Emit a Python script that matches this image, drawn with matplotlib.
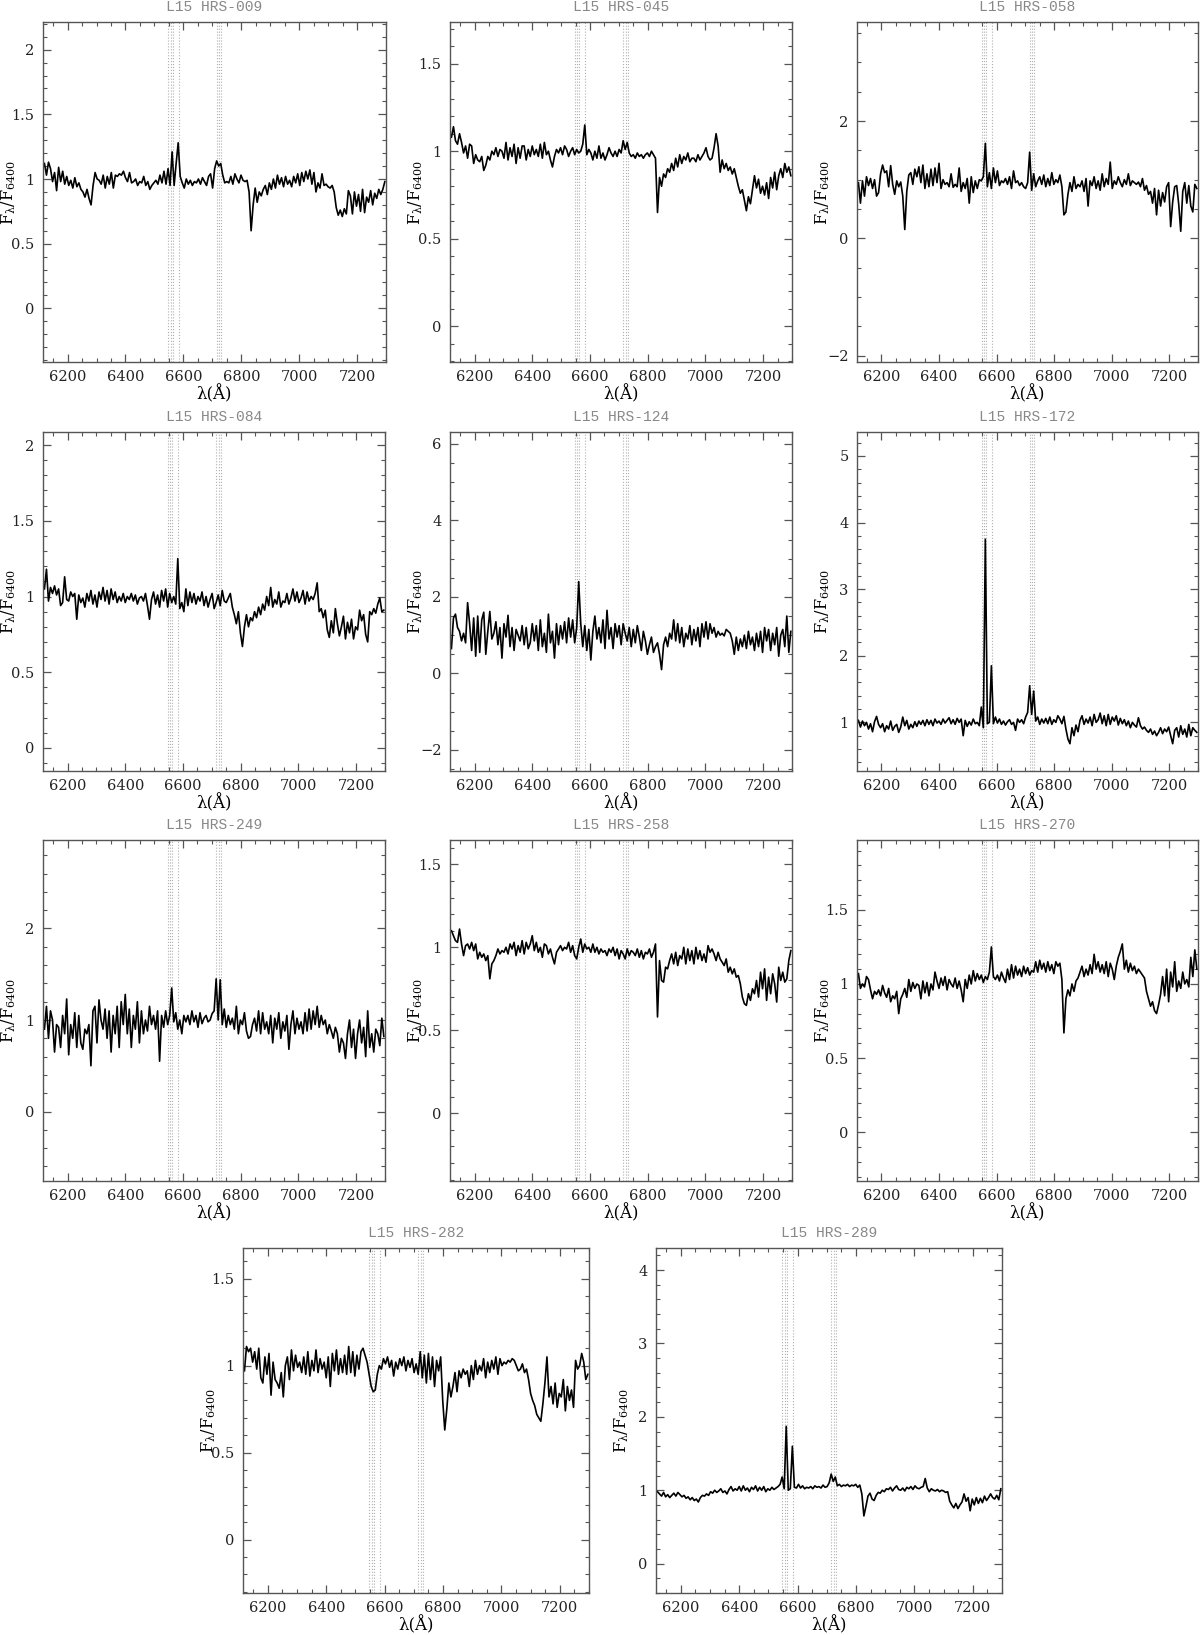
import numpy as np
import matplotlib
matplotlib.use('Agg')
import matplotlib.pyplot as plt
from matplotlib.ticker import MultipleLocator, FuncFormatter

plt.rcParams['font.family'] = 'DejaVu Serif'
plt.rcParams['mathtext.fontset'] = 'dejavuserif'

# wavelength grid of the spectra (7 A sampling), one row of 10 values = 70 A
wl = np.arange(6120, 7300, 7)

# emission line markers (Halpha + [NII], [SII])
line_marks = [6548, 6556, 6563, 6584, 6716, 6724, 6731]

names = ['L15 HRS-009', 'L15 HRS-045', 'L15 HRS-058', 'L15 HRS-084',
         'L15 HRS-124', 'L15 HRS-172', 'L15 HRS-249', 'L15 HRS-258',
         'L15 HRS-270', 'L15 HRS-282', 'L15 HRS-289']

hrs009 = [1.12, 1.03, 1.13, 1.08, 0.98, 1.05, 0.91, 1.09, 0.98, 1.06,
          0.96, 1.02, 0.95, 0.99, 0.93, 1.01, 0.94, 0.97, 0.92, 0.90,
          0.86, 0.92, 0.85, 0.80, 0.95, 1.05, 1.00, 0.99, 0.96, 1.03,
          0.93, 1.02, 0.96, 1.05, 0.93, 1.03, 1.02, 1.04, 1.03, 1.06,
          1.01, 0.98, 1.05, 0.97, 0.98, 1.00, 0.95, 0.98, 0.97, 1.02,
          0.95, 0.98, 0.92, 0.95, 0.97, 0.99, 0.96, 1.03, 0.97, 1.06,
          0.96, 1.08, 0.95, 1.21, 0.95, 1.12, 1.28, 1.02, 0.97, 0.93,
          1.00, 0.96, 0.99, 0.95, 0.98, 0.97, 1.00, 0.96, 1.01, 0.98,
          0.95, 1.02, 1.04, 0.93, 1.08, 1.14, 1.10, 1.12, 1.03, 0.97,
          0.98, 0.97, 1.02, 0.96, 1.04, 1.00, 0.97, 1.03, 0.99, 0.98,
          0.99, 0.90, 0.60, 0.80, 0.93, 0.82, 0.90, 0.87, 0.92, 0.95,
          0.88, 0.97, 0.92, 1.00, 0.93, 1.03, 0.96, 1.01, 0.94, 1.02,
          0.96, 0.99, 0.94, 1.02, 0.97, 1.04, 0.95, 1.05, 0.98, 1.06,
          1.00, 1.07, 0.96, 1.05, 0.90, 0.97, 0.93, 1.04, 0.95, 0.96,
          0.94, 0.93, 0.95, 0.90, 0.78, 0.72, 0.76, 0.71, 0.77, 0.73,
          0.91, 0.87, 0.73, 0.90, 0.79, 0.88, 0.75, 0.92, 0.74, 0.86,
          0.82, 0.91, 0.80, 0.89, 0.85, 0.92, 0.88, 0.92, 0.98]

hrs045 = [1.08, 1.14, 1.06, 1.04, 1.10, 1.05, 0.99, 1.03, 0.96, 1.04,
          1.03, 0.93, 0.98, 0.95, 0.94, 0.97, 0.89, 0.92, 0.97, 0.95,
          1.00, 0.98, 1.02, 0.97, 1.01, 1.00, 0.96, 1.05, 0.95, 1.02,
          0.97, 1.04, 0.93, 1.02, 0.96, 1.03, 1.03, 0.95, 1.01, 0.97,
          1.03, 0.98, 1.01, 0.97, 1.04, 0.96, 1.05, 0.98, 1.00, 0.95,
          0.91, 0.97, 1.01, 0.99, 1.02, 0.98, 1.03, 1.01, 0.97, 1.00,
          1.02, 0.98, 1.01, 0.99, 1.00, 1.04, 1.15, 0.98, 1.01, 0.99,
          0.95, 1.00, 0.96, 1.03, 0.96, 0.99, 0.95, 0.98, 1.02, 0.99,
          0.97, 1.00, 0.97, 1.01, 0.99, 1.06, 1.01, 1.05, 0.99, 0.97,
          0.98, 0.96, 0.99, 0.97, 0.98, 0.96, 0.98, 0.99, 0.97, 1.00,
          0.98, 0.96, 0.65, 0.85, 0.80, 0.87, 0.85, 0.90, 0.88, 0.93,
          0.89, 0.96, 0.91, 0.98, 0.93, 0.97, 0.95, 0.99, 0.94, 0.96,
          0.96, 0.94, 0.98, 0.95, 0.97, 0.99, 1.02, 0.97, 0.95, 0.96,
          1.02, 1.10, 1.03, 0.88, 0.95, 0.90, 0.93, 0.89, 0.91, 0.87,
          0.90, 0.85, 0.80, 0.76, 0.78, 0.72, 0.66, 0.74, 0.70, 0.78,
          0.86, 0.79, 0.84, 0.76, 0.80, 0.75, 0.82, 0.73, 0.85, 0.79,
          0.88, 0.78, 0.86, 0.90, 0.85, 0.93, 0.88, 0.91, 0.86]

hrs058 = [0.95, 0.60, 0.98, 0.72, 1.05, 0.90, 1.02, 0.85, 1.00, 0.72,
          0.78, 1.10, 1.25, 1.12, 1.15, 0.88, 1.24, 0.92, 0.75, 0.98,
          0.88, 0.96, 0.72, 0.15, 0.80, 1.08, 1.12, 0.92, 1.18, 1.05,
          1.22, 0.95, 1.25, 0.85, 1.10, 0.88, 1.18, 0.90, 1.20, 0.95,
          1.28, 0.85, 1.00, 0.92, 0.95, 0.88, 1.10, 0.87, 0.92, 0.88,
          1.20, 0.80, 0.95, 0.85, 1.02, 0.60, 1.05, 0.78, 0.98, 0.85,
          1.00, 0.98, 1.05, 1.62, 0.88, 1.12, 0.85, 1.20, 0.95, 1.15,
          0.90, 0.98, 0.95, 1.02, 0.92, 1.05, 0.85, 1.15, 0.95, 0.98,
          0.90, 0.95, 0.88, 0.85, 0.95, 1.47, 0.82, 1.10, 0.88, 0.98,
          1.05, 0.92, 1.08, 0.88, 1.02, 0.90, 1.12, 0.92, 1.00, 0.95,
          1.08, 0.88, 0.40, 0.45, 0.75, 0.95, 0.80, 1.05, 0.85, 0.92,
          0.88, 0.98, 0.80, 1.02, 0.55, 0.98, 0.90, 1.05, 0.85, 0.98,
          0.82, 1.10, 0.88, 1.02, 0.92, 1.30, 0.85, 0.98, 0.92, 1.05,
          0.95, 0.88, 1.00, 0.92, 1.10, 0.90, 0.98, 0.95, 0.92, 0.96,
          0.88, 1.02, 0.82, 0.90, 0.75, 0.80, 0.60, 0.85, 0.40, 0.82,
          0.55, 0.78, 0.62, 0.88, 0.95, 0.20, 0.62, 0.88, 0.90, 0.58,
          0.12, 0.80, 0.95, 0.60, 0.90, 0.55, 0.45, 0.92, 0.85]

hrs084 = [1.05, 1.18, 0.97, 1.06, 1.02, 1.07, 1.01, 1.05, 0.94, 0.96,
          1.13, 0.98, 0.97, 1.03, 1.00, 1.02, 0.85, 1.01, 0.96, 0.99,
          0.93, 1.02, 0.97, 1.04, 0.95, 1.01, 0.93, 1.03, 0.98, 1.06,
          0.97, 1.04, 0.95, 1.05, 0.98, 1.03, 0.96, 1.00, 0.97, 1.02,
          0.96, 1.00, 0.98, 1.02, 0.97, 1.01, 0.95, 0.99, 1.00, 0.97,
          1.02, 0.94, 0.85, 0.98, 1.03, 0.95, 1.01, 0.93, 1.04, 0.97,
          1.05, 0.93, 1.02, 0.96, 1.00, 0.95, 1.25, 0.92, 0.96, 0.90,
          1.05, 0.94, 1.03, 0.96, 1.02, 0.95, 1.00, 0.97, 1.03, 0.94,
          1.00, 0.93, 0.98, 1.02, 0.92, 0.96, 1.01, 0.94, 1.04, 0.97,
          0.96, 0.99, 1.02, 0.93, 0.88, 0.82, 0.90, 0.76, 0.67, 0.80,
          0.88, 0.80, 0.86, 0.84, 0.90, 0.86, 0.93, 0.88, 0.95, 0.91,
          1.00, 0.94, 1.06, 0.93, 0.98, 0.95, 1.03, 0.93, 0.97, 0.96,
          1.02, 0.95, 0.99, 1.05, 0.97, 1.03, 0.96, 0.99, 1.04, 0.95,
          1.03, 0.97, 1.00, 0.98, 1.02, 1.09, 0.90, 0.92, 0.86, 0.91,
          0.78, 0.73, 0.84, 0.76, 0.92, 0.82, 0.74, 0.80, 0.87, 0.72,
          0.83, 0.76, 0.85, 0.72, 0.80, 0.78, 0.91, 0.84, 0.88, 0.75,
          0.70, 0.90, 0.88, 0.92, 0.89, 0.95, 0.99, 0.90, 0.91]

hrs124 = [0.65, 1.45, 1.55, 1.20, 1.10, 0.85, 1.05, 0.80, 1.85, 1.30,
          0.60, 1.45, 0.45, 1.50, 0.55, 1.40, 1.60, 0.50, 1.10, 1.62,
          0.90, 1.05, 1.35, 0.75, 1.20, 0.40, 1.30, 0.95, 1.52, 0.70,
          1.20, 0.60, 1.15, 1.00, 0.85, 1.25, 0.75, 1.20, 0.65, 0.80,
          1.30, 0.85, 1.25, 0.60, 1.40, 0.70, 1.05, 0.55, 1.55, 0.80,
          1.10, 0.40, 1.30, 0.75, 1.25, 0.90, 1.35, 0.80, 1.45, 0.95,
          1.40, 0.80, 1.20, 2.40, 1.30, 0.70, 1.25, 0.60, 1.15, 0.35,
          1.10, 1.50, 0.90, 1.20, 0.80, 1.40, 0.65, 1.65, 0.90, 1.20,
          0.65, 1.30, 0.95, 1.25, 0.75, 1.30, 1.05, 0.85, 1.20, 0.70,
          1.15, 0.80, 1.25, 0.95, 0.60, 1.10, 0.85, 0.50, 0.75, 0.95,
          0.55, 0.70, 0.80, 0.50, 0.10, 0.75, 0.95, 0.70, 1.05, 0.90,
          1.40, 0.85, 1.30, 0.80, 1.20, 0.70, 1.05, 0.90, 1.25, 0.75,
          1.15, 0.85, 1.20, 0.70, 1.30, 0.95, 1.35, 0.90, 1.30, 1.05,
          1.20, 0.95, 1.10, 1.00, 1.05, 0.98, 1.15, 1.10, 1.05, 0.85,
          0.50, 0.95, 0.60, 0.90, 0.70, 1.00, 0.65, 1.10, 0.75, 0.95,
          0.60, 1.05, 0.70, 1.10, 0.55, 1.20, 0.85, 1.15, 0.60, 1.05,
          0.75, 1.20, 0.45, 1.00, 1.15, 0.70, 1.50, 0.55, 1.10]

hrs172 = [1.03, 0.93, 1.02, 0.95, 1.00, 0.90, 0.98, 0.86, 1.01, 1.09,
          0.97, 0.92, 0.98, 0.86, 0.95, 0.90, 1.02, 0.88, 0.94, 0.97,
          0.85, 0.93, 1.08, 0.95, 1.03, 0.90, 0.97, 0.92, 1.01, 0.94,
          1.02, 0.97, 1.03, 0.95, 1.04, 0.97, 1.03, 0.95, 1.05, 0.99,
          1.02, 0.97, 1.05, 0.99, 1.03, 1.07, 0.98, 1.04, 0.97, 1.06,
          1.00, 1.05, 0.80, 1.03, 0.94, 1.01, 0.96, 1.05, 0.98, 1.00,
          0.95, 1.23, 0.92, 3.75, 0.98, 1.00, 1.85, 0.98, 1.08, 0.99,
          1.05, 0.97, 1.02, 0.96, 1.01, 1.04, 0.97, 1.00, 0.88, 1.05,
          1.00, 1.04, 0.98, 1.08, 1.15, 1.55, 1.12, 1.47, 1.02, 1.08,
          0.97, 1.05, 0.99, 1.06, 0.98, 1.08, 0.97, 1.04, 1.00, 1.10,
          1.05, 0.98, 1.09, 0.90, 0.75, 0.68, 0.92, 0.80, 0.96, 0.86,
          1.03, 1.10, 0.97, 1.05, 0.99, 1.08, 0.95, 1.12, 1.00, 1.04,
          1.14, 0.98, 1.10, 0.95, 1.12, 0.97, 1.08, 1.02, 1.10, 0.96,
          1.06, 0.98, 1.04, 0.95, 1.02, 0.92, 1.00, 0.96, 0.93, 1.07,
          0.95, 0.90, 0.93, 0.88, 0.85, 0.90, 0.82, 0.87, 0.80, 0.85,
          0.92, 0.83, 0.90, 0.86, 0.93, 0.80, 0.68, 0.88, 0.92, 0.78,
          0.95, 0.82, 0.90, 0.78, 0.97, 0.80, 0.92, 0.88, 0.85]

hrs249 = [0.90, 1.15, 0.80, 1.10, 1.00, 0.65, 0.95, 0.92, 0.70, 1.05,
          0.85, 1.23, 0.62, 0.95, 0.80, 1.08, 0.70, 1.05, 0.75, 0.68,
          0.90, 0.85, 0.95, 0.50, 1.10, 1.15, 0.75, 1.22, 1.00, 0.90,
          1.12, 0.80, 1.10, 0.65, 1.05, 0.85, 1.15, 0.70, 1.20, 0.95,
          1.28, 0.85, 1.12, 0.70, 1.05, 0.90, 1.20, 0.75, 1.10, 0.85,
          1.00, 0.88, 1.15, 0.95, 1.05, 0.90, 1.10, 0.55, 1.05, 0.92,
          1.10, 0.95, 1.05, 1.35, 0.98, 1.08, 0.90, 1.00, 0.85, 1.05,
          0.98, 1.05, 0.95, 1.10, 0.98, 1.05, 0.92, 1.08, 0.96, 1.02,
          1.05, 0.98, 1.00, 1.07, 1.10, 1.45, 1.00, 1.44, 0.95, 1.12,
          0.92, 1.05, 0.95, 1.02, 0.90, 1.15, 0.85, 1.00, 0.95, 1.08,
          0.88, 0.80, 0.82, 0.95, 1.02, 0.88, 1.10, 0.85, 1.08, 0.90,
          0.98, 0.85, 1.05, 0.75, 1.02, 0.90, 1.08, 0.80, 0.98, 0.88,
          1.05, 0.68, 0.95, 1.10, 0.85, 1.02, 0.90, 0.98, 0.85, 1.08,
          0.88, 1.12, 0.90, 1.10, 0.95, 1.15, 0.92, 1.05, 0.95, 1.00,
          0.85, 0.95, 0.88, 0.80, 0.92, 0.85, 0.65, 0.80, 0.75, 0.58,
          0.85, 1.00, 0.70, 0.90, 0.58, 0.85, 1.00, 0.75, 0.92, 0.60,
          1.10, 0.70, 0.85, 0.65, 0.90, 0.85, 0.72, 1.02, 0.82]

hrs258 = [1.10, 1.07, 1.04, 1.03, 1.11, 1.02, 0.95, 1.01, 1.02, 0.99,
          1.03, 0.98, 1.02, 0.93, 0.97, 0.94, 0.96, 0.92, 0.95, 0.81,
          0.90, 0.92, 0.95, 0.99, 0.96, 0.98, 0.97, 1.00, 0.96, 1.02,
          0.99, 1.03, 0.95, 1.01, 0.97, 1.04, 0.96, 1.03, 0.99, 1.02,
          1.07, 0.98, 1.03, 0.97, 1.00, 0.94, 1.02, 1.01, 0.96, 0.99,
          0.94, 0.90, 0.97, 0.99, 1.01, 0.98, 1.00, 0.99, 1.03, 0.97,
          1.01, 0.95, 0.93, 1.00, 1.05, 0.97, 1.02, 0.99, 1.00, 0.97,
          1.02, 0.97, 1.00, 0.96, 0.99, 0.97, 0.98, 0.95, 0.99, 0.97,
          1.00, 0.95, 0.99, 0.93, 0.98, 0.96, 0.93, 0.99, 0.95, 0.98,
          0.97, 0.95, 0.99, 0.94, 0.98, 0.93, 0.97, 0.96, 0.99, 0.94,
          0.97, 1.02, 0.58, 0.92, 0.80, 0.79, 0.88, 0.87, 0.92, 0.96,
          0.90, 0.97, 0.89, 0.95, 0.93, 1.00, 0.90, 0.99, 0.92, 0.98,
          0.90, 1.00, 0.93, 0.98, 0.92, 0.96, 0.91, 1.01, 0.97, 0.99,
          0.96, 0.92, 0.97, 0.93, 0.91, 0.89, 0.93, 0.85, 0.88, 0.84,
          0.87, 0.82, 0.83, 0.78, 0.70, 0.66, 0.65, 0.72, 0.68, 0.75,
          0.72, 0.80, 0.70, 0.85, 0.75, 0.87, 0.68, 0.82, 0.72, 0.84,
          0.78, 0.67, 0.88, 0.80, 0.85, 0.79, 0.81, 0.92, 0.98]

hrs270 = [1.07, 0.97, 1.00, 0.98, 1.05, 1.03, 0.96, 0.90, 0.95, 0.93,
          0.96, 0.92, 0.99, 0.94, 0.91, 0.97, 0.88, 0.92, 0.90, 0.95,
          0.80, 0.90, 0.93, 0.97, 0.91, 1.03, 0.95, 1.01, 0.97, 1.00,
          0.99, 0.90, 1.02, 0.94, 1.01, 0.92, 1.00, 0.96, 1.08, 1.02,
          0.97, 1.04, 0.99, 1.05, 0.96, 1.03, 1.00, 0.98, 1.04, 0.97,
          1.02, 0.96, 0.88, 1.03, 0.97, 1.06, 1.00, 1.09, 1.02, 1.07,
          1.03, 1.06, 1.01, 1.05, 1.03, 1.08, 1.25, 1.05, 1.03, 1.06,
          1.02, 1.08, 1.04, 1.01, 1.10, 1.03, 1.13, 1.04, 1.12, 1.06,
          1.10, 1.05, 1.12, 1.07, 1.11, 1.06, 1.09, 1.08, 1.15, 1.08,
          1.16, 1.10, 1.14, 1.08, 1.15, 1.09, 1.13, 1.07, 1.15, 1.12,
          1.14, 1.03, 0.67, 0.90, 0.96, 0.92, 1.00, 0.95, 1.02, 1.04,
          1.08, 1.12, 1.05, 1.10, 1.06, 1.13, 1.07, 1.20, 1.10, 1.15,
          1.08, 1.13, 1.07, 1.15, 1.05, 1.14, 1.10, 1.03, 1.12, 1.18,
          1.22, 1.27, 1.10, 1.16, 1.08, 1.14, 1.09, 1.12, 1.07, 1.10,
          1.08, 1.06, 1.04, 0.95, 0.90, 0.85, 0.88, 0.82, 0.80, 0.86,
          0.93, 1.05, 0.92, 1.10, 0.88, 1.08, 0.98, 1.15, 0.95, 1.02,
          0.97, 1.08, 1.00, 1.03, 0.98, 1.18, 1.05, 1.23, 1.10]

hrs282 = [0.97, 1.11, 1.08, 1.10, 1.02, 1.08, 0.98, 1.10, 0.93, 0.90,
          1.05, 0.95, 1.07, 0.83, 1.02, 0.92, 0.90, 0.87, 0.96, 0.82,
          1.00, 1.05, 0.92, 1.09, 0.97, 1.06, 0.99, 1.02, 0.96, 1.05,
          0.95, 1.08, 0.94, 1.03, 0.97, 1.09, 0.96, 1.04, 0.98, 1.02,
          0.93, 1.05, 0.88, 1.07, 0.97, 1.09, 0.95, 1.04, 0.96, 1.06,
          0.95, 1.11, 0.96, 1.08, 0.94, 1.06, 0.98, 1.08, 1.10, 1.06,
          1.02, 0.95, 0.88, 0.85, 0.86, 0.95, 1.00, 0.98, 1.04, 1.01,
          1.05, 0.99, 1.03, 0.94, 1.02, 0.98, 1.04, 1.00, 1.05, 0.97,
          1.03, 0.99, 1.04, 0.96, 1.01, 0.95, 1.08, 0.93, 1.06, 0.90,
          1.07, 0.92, 1.05, 0.88, 1.03, 0.97, 1.05, 0.80, 0.63, 0.75,
          0.90, 0.82, 0.88, 0.96, 0.85, 0.97, 0.93, 0.98, 0.95, 0.97,
          0.88, 1.00, 0.92, 1.03, 0.95, 1.00, 0.97, 1.04, 0.93, 1.02,
          0.96, 1.03, 0.98, 1.05, 0.95, 1.04, 1.00, 1.02, 1.01, 1.03,
          1.02, 1.04, 1.03, 1.00, 0.97, 0.98, 1.01, 0.96, 0.98, 0.92,
          0.84, 0.80, 0.77, 0.72, 0.70, 0.68, 0.78, 0.90, 1.05, 0.82,
          0.88, 0.78, 0.90, 0.76, 0.84, 0.82, 0.92, 0.74, 0.88, 0.80,
          0.86, 0.76, 1.03, 0.98, 1.00, 1.07, 1.02, 0.92, 0.95]

hrs289 = [0.98, 0.95, 0.92, 0.97, 0.91, 0.94, 0.90, 0.93, 0.96, 0.92,
          0.97, 0.94, 0.91, 0.93, 0.89, 0.91, 0.87, 0.90, 0.86, 0.88,
          0.84, 0.90, 0.93, 0.92, 0.95, 0.93, 0.98, 0.96, 1.00, 0.97,
          0.99, 1.02, 0.97, 0.99, 0.95, 1.01, 1.05, 0.99, 1.02, 1.00,
          1.05, 0.99, 1.06, 1.00, 1.03, 0.98, 1.04, 1.01, 1.06, 0.99,
          1.04, 1.00, 1.05, 0.98, 1.02, 1.00, 1.04, 1.01, 1.03, 1.05,
          1.08, 1.18, 1.02, 1.87, 1.00, 1.02, 1.60, 1.04, 1.03, 1.08,
          1.03, 1.06, 1.02, 1.04, 1.03, 1.05, 1.02, 1.06, 1.04, 1.05,
          1.03, 1.07, 1.04, 1.05, 1.10, 1.22, 1.12, 1.18, 1.06, 1.08,
          1.05, 1.07, 1.06, 1.08, 1.05, 1.07, 1.06, 1.08, 1.04, 1.07,
          0.95, 0.65, 0.78, 0.92, 0.96, 0.88, 0.86, 0.93, 0.97, 0.96,
          1.00, 0.98, 1.02, 1.01, 1.04, 0.99, 1.03, 1.06, 1.01, 1.00,
          1.03, 0.99, 1.04, 1.02, 1.05, 1.01, 1.06, 1.03, 1.02, 1.04,
          1.05, 1.16, 1.03, 0.98, 1.02, 1.00, 0.99, 1.01, 0.98, 1.00,
          0.99, 0.97, 0.98, 0.85, 0.80, 0.76, 0.82, 0.75, 0.80, 0.84,
          0.95, 0.85, 0.90, 0.72, 0.88, 0.80, 0.90, 0.82, 0.89, 0.83,
          0.92, 0.86, 0.90, 0.95, 0.90, 0.88, 0.93, 0.87, 1.02]

spectra = [hrs009, hrs045, hrs058, hrs084, hrs124, hrs172,
           hrs249, hrs258, hrs270, hrs282, hrs289]

# panel boxes in pixels (left, top, right, bottom) of a 1200x1635 figure
boxes = [(43, 22, 386, 362), (450, 22, 792, 362), (857, 22, 1198, 362),
         (43, 432, 385, 771), (450, 432, 792, 771), (857, 432, 1198, 771),
         (43, 840, 385, 1181), (450, 840, 792, 1181), (857, 840, 1198, 1181),
         (243, 1248, 589, 1593), (656, 1248, 1002, 1593)]

# y limits, major and minor tick step per panel
ylims = [(-0.415, 2.214), (-0.204, 1.738), (-2.11, 3.69), (-0.152, 2.086),
         (-2.55, 6.31), (0.27, 5.36), (-0.759, 2.967), (-0.409, 1.647),
         (-0.329, 1.971), (-0.307, 1.676), (-0.40, 4.30)]
yticks = [(0.5, 0.1), (0.5, 0.1), (2, 0.5), (0.5, 0.1), (2, 0.5), (1, 0.2),
          (1, 0.2), (0.5, 0.1), (0.5, 0.1), (0.5, 0.1), (1, 0.2)]


def yfmt(v, pos):
    return ('%g' % v).replace('-', '\u2212')


W, H = 1200, 1635
fig = plt.figure(figsize=(12, 16.35), dpi=100)
axcol = '#555555'

for i in range(len(spectra)):
    l, t, r, b = boxes[i]
    ax = fig.add_axes([l / W, 1 - b / H, (r - l) / W, (b - t) / H])
    for m in line_marks:
        ax.axvline(m, color='#b0b0b0', ls=':', lw=0.8, zorder=1)
    ax.plot(wl, spectra[i], color='black', lw=1.2, zorder=2)
    ax.set_xlim(6115, 7300)
    ax.set_ylim(*ylims[i])
    ax.xaxis.set_major_locator(MultipleLocator(200))
    ax.xaxis.set_minor_locator(MultipleLocator(50))
    ax.yaxis.set_major_locator(MultipleLocator(yticks[i][0]))
    ax.yaxis.set_minor_locator(MultipleLocator(yticks[i][1]))
    ax.yaxis.set_major_formatter(FuncFormatter(yfmt))
    ax.tick_params(which='both', direction='in', top=True, right=True,
                   color=axcol, labelsize=10.5, labelcolor='#222222', pad=6)
    ax.tick_params(which='major', length=6, width=0.9)
    ax.tick_params(which='minor', length=3, width=0.8)
    for s in ax.spines.values():
        s.set_color(axcol)
        s.set_linewidth(1.0)
    ax.set_title(names[i], family='Liberation Mono', fontsize=10.5,
                 color='#888888', pad=8)
    ax.set_xlabel('λ(Å)', fontsize=12)
    ax.set_ylabel(r'$\mathrm{F_{\lambda}/F_{6400}}$', fontsize=11.5)
    ax.xaxis.set_label_coords(0.5, -23.0 / (b - t))
    ax.yaxis.set_label_coords(-25.0 / (r - l), 0.5)

fig.savefig('out.png', dpi=100)
